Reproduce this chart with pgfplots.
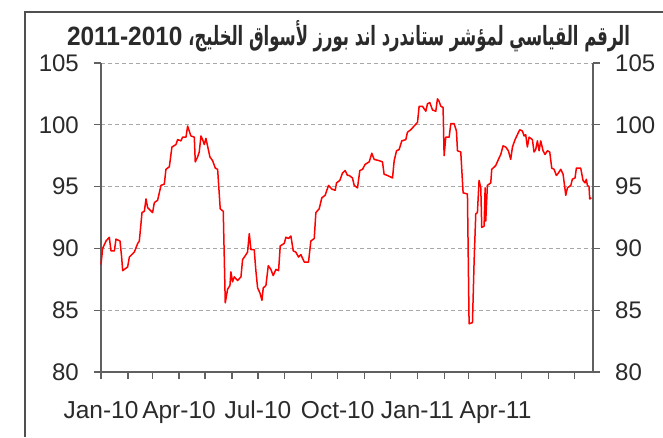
\documentclass[border=0pt]{standalone}
\usepackage{pgfplots}
\pgfplotsset{compat=1.18}
\usepackage{pgfplotstable}
\usepackage{fontspec}
\setmainfont{Liberation Sans}
\newfontfamily\arabicfont[Script=Arabic]{DejaVu Sans}
\TeXXeTstate=1
\definecolor{framegray}{HTML}{505050}
\definecolor{axisgray}{HTML}{606060}
\definecolor{gridgray}{HTML}{A8A8A8}
\definecolor{txt}{HTML}{2A2A2A}

\pgfplotstableread{
day val
0 88.7
1.9 90.0
5.8 90.6
9.6 90.9
11.5 89.8
15.4 89.8
17.3 90.75
21.9 90.6
23.8 89.3
25.0 88.2
30.7 88.5
32.7 89.3
38.4 89.7
42.3 90.4
44.2 90.6
47.3 92.9
50.0 93.0
51.9 94.0
53.8 93.3
59.5 92.9
61.5 93.7
65.3 93.9
69.2 95.1
73.0 95.2
74.9 96.4
78.8 96.6
81.8 98.2
86.4 98.4
88.4 98.8
92.2 98.7
94.1 99.0
98.0 99.0
99.9 99.9
103.7 99.1
107.6 99.0
108.7 97.0
111.4 97.4
113.3 97.8
115.3 99.1
117.2 98.8
119.1 98.4
121.0 98.9
124.1 97.9
125.6 97.4
128.7 97.1
131.8 96.5
134.5 96.4
137.5 93.2
141.0 93.0
143.3 85.6
146.0 86.7
148.7 87.0
149.8 88.1
151.7 87.3
153.7 87.7
157.5 87.4
161.4 87.7
163.3 89.1
166.3 89.4
169.0 89.7
171.0 91.2
172.9 89.9
176.7 89.9
178.6 88.2
180.6 86.8
183.3 86.4
185.6 85.8
187.1 86.8
190.2 87.0
192.9 88.6
195.9 88.3
198.6 87.8
201.7 88.3
204.8 88.2
206.7 90.2
211.3 90.4
213.2 90.9
216.3 90.8
219.0 91.0
221.7 89.8
224.7 89.7
227.8 89.3
230.5 89.5
234.4 88.9
239.3 88.9
242.0 90.6
245.9 90.8
247.8 92.9
251.6 93.2
254.7 94.1
258.5 94.3
262.4 95.1
266.2 94.8
270.1 94.7
271.6 95.3
275.4 95.5
278.5 96.1
281.6 96.3
284.3 95.9
286.2 95.9
290.0 95.7
292.0 95.1
295.8 94.9
298.5 96.3
301.6 96.4
304.6 96.8
309.3 97.0
312.3 97.7
315.0 97.2
320.8 97.1
324.6 97.0
326.5 96.0
330.4 95.9
336.2 95.7
338.1 97.1
340.8 97.9
343.8 98.0
346.9 98.7
351.5 98.8
353.4 99.4
357.3 99.6
361.1 99.9
365.0 100.2
366.9 101.5
370.7 101.5
374.6 101.1
376.5 101.7
379.2 101.8
382.3 101.2
386.1 101.1
388.0 102.1
389.9 101.9
391.9 101.5
394.5 101.4
395.7 97.5
397.6 99.0
401.5 99.0
403.4 100.1
407.2 100.1
409.9 99.5
411.1 97.9
414.9 97.8
417.6 94.5
422.6 94.4
424.5 83.9
428.4 84.0
430.3 89.0
432.2 92.8
434.1 92.9
436.0 95.5
438.0 94.9
439.1 91.7
441.8 91.8
443.0 94.9
443.7 92.2
445.6 95.1
449.5 95.3
450.6 96.4
455.2 96.7
458.3 97.2
461.0 97.6
463.7 98.3
466.8 98.2
469.8 97.9
472.5 97.2
474.5 98.2
477.5 98.8
480.2 99.2
482.9 99.6
486.0 99.5
487.9 99.1
489.8 99.2
491.7 98.2
493.7 99.0
495.6 98.9
497.5 98.8
499.4 97.8
501.3 98.0
503.3 98.7
505.2 97.9
507.1 98.7
509.8 97.9
512.1 97.6
514.8 97.9
517.5 97.8
519.8 96.5
522.5 96.4
525.2 95.9
527.5 96.1
530.2 96.4
532.9 96.0
536.0 94.3
537.9 94.9
541.8 95.1
543.6 95.6
546.7 95.7
548.2 96.5
553.2 96.5
555.9 95.5
558.2 95.3
559.7 95.6
560.9 95.1
562.8 95.0
563.6 94.0
565.5 94.1
}\datatable

\begin{document}
\begin{tikzpicture}[x=1pt,y=1pt]
\path[use as bounding box] (0,0) rectangle (663,-437);
\draw[line width=1.5pt, framegray] (25,-437) -- (25,-12) -- (663,-12);
\node[anchor=base, inner sep=0pt, text=txt] at (348.5,-45)
  {\resizebox{563pt}{25pt}{\fontsize{20}{20}\selectfont\arabicfont\bfseries\beginR الرقم القياسي لمؤشر ستاندرد اند بورز لأسواق الخليج، \beginL\scalebox{1.49}[1]{\rmfamily\bfseries 2011-2010}\endL\endR}};
\begin{axis}[
  at={(101pt,-372pt)}, anchor=south west,
  scale only axis, width=492pt, height=309pt,
  xmin=0, xmax=567.4, ymin=80, ymax=105,
  axis x line*=bottom, axis y line*=left,
  axis line style={-, axisgray, line width=1.5pt},
  ytick={80,85,90,95,100,105},
  xtick={0,90,181,273,365,455},
  xticklabels={Jan-10,Apr-10,Jul-10,Oct-10,Jan-11,Apr-11},
  minor xtick={31,59,120,151,212,243,304,334,396,424,485,516,546},
  tick align=outside,
  major tick length=7pt, minor tick length=7pt,
  every tick/.style={axisgray, line width=1.3pt},
  every minor tick/.style={axisgray, line width=1.3pt},
  ymajorgrids,
  grid style={gridgray, dash pattern=on 4pt off 3pt, line width=0.9pt},
  /pgf/number format/assume math mode=true,
  tick label style={font=\fontsize{24}{24}\selectfont, text=txt, inner sep=0pt},
  xticklabel style={font=\fontsize{24.5}{24.5}\selectfont},
  xticklabel shift=22pt,
  yticklabel shift=15pt,
  clip=false,
]
\addplot[red, line width=1.5pt, line join=round] table[x=day, y=val] {\datatable};
\end{axis}
\begin{axis}[
  at={(101pt,-372pt)}, anchor=south west,
  scale only axis, width=492pt, height=309pt,
  xmin=0, xmax=567.4, ymin=80, ymax=105,
  axis x line=none, axis y line*=right,
  axis line style={-, axisgray, line width=1.5pt},
  ytick={80,85,90,95,100,105},
  tick align=outside,
  major tick length=7pt,
  every tick/.style={axisgray, line width=1.3pt},
  /pgf/number format/assume math mode=true,
  tick label style={font=\fontsize{24}{24}\selectfont, text=txt, inner sep=0pt},
  yticklabel shift=15pt,
]
\end{axis}
\end{tikzpicture}
\end{document}
